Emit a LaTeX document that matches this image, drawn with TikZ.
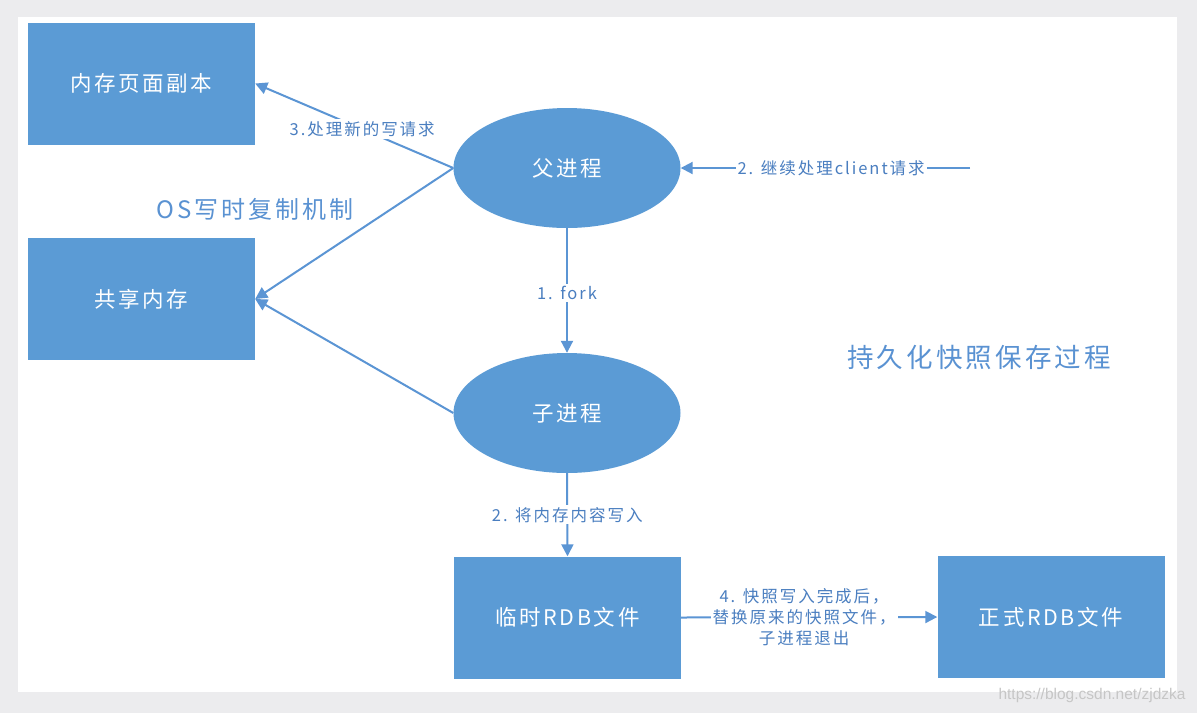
\documentclass[tikz,border=0pt]{standalone}
\usepackage{fontspec}
\setmainfont{Noto Sans CJK SC}
\newfontfamily\spaced[LetterSpace=12]{Noto Sans CJK SC}
\newfontfamily\wmfont{Liberation Sans}
\usetikzlibrary{shapes.geometric,arrows.meta}
\definecolor{boxblue}{HTML}{5B9BD5}
\definecolor{lineblue}{HTML}{5B95D4}
\definecolor{txtblue}{HTML}{4A7EC0}
\definecolor{titleblue}{HTML}{5A92D2}
\definecolor{bggray}{HTML}{ECECEE}
\begin{document}
\begin{tikzpicture}[x=1pt,y=-1pt,
  boxnode/.style={rectangle, fill=boxblue, minimum width=227pt, minimum height=122pt, inner sep=0pt, text=white, font=\spaced\fontsize{21.5}{24}\selectfont},
  procnode/.style={ellipse, fill=boxblue, minimum width=227pt, minimum height=120pt, inner sep=0pt, text=white, font=\spaced\fontsize{21.5}{24}\selectfont},
  conn/.style={draw=lineblue, line width=2pt, -{Triangle[length=12pt,width=12pt]}},
  lbl/.style={fill=white, inner sep=2pt, text=txtblue, font=\spaced\fontsize{16.5}{21}\selectfont, align=center},
  titletext/.style={text=titleblue, inner sep=0pt}
]
\useasboundingbox (0,0) rectangle (1197,713);
\fill[bggray] (0,0) rectangle (1197,713);
\fill[white] (18,17) rectangle (1177,692);

\node[boxnode] (mem) at (141.5,83.5) {内存页面副本};
\node[boxnode] (sh) at (141.5,299) {共享内存};
\node[procnode] (fa) at (567,168) {父进程};
\node[procnode] (ch) at (567,413) {子进程};
\node[boxnode] (tmp) at (567.5,617.5) {临时RDB文件};
\node[boxnode] (rdb) at (1051,617) {正式RDB文件};

\node[titletext, font=\spaced\fontsize{24}{28}\selectfont] (os) at (255,209) {OS写时复制机制};
\node[titletext, font=\spaced\fontsize{26.5}{30}\selectfont] (title) at (979,357) {持久化快照保存过程};
\node[text=gray!45, inner sep=0pt, font=\wmfont\fontsize{15.5}{17}\selectfont] (wm) at (1092,695) {https://blog.csdn.net/zjdzka};

\coordinate (cl) at (970,168);

\draw[conn] (fa.west) -- node[lbl, pos=0.46] {3.处理新的写请求} (mem.east);
\draw[conn] (fa.west) -- (sh.east);
\draw[conn] (ch.west) -- (sh.east);
\draw[conn] (fa.south) -- node[lbl, pos=0.52] {1. fork} (ch.north);
\draw[conn] (cl) -- node[lbl, pos=0.48] {2. 继续处理client请求} (fa.east);
\draw[conn] (ch.south) -- node[lbl, pos=0.5] {2. 将内存内容写入} (tmp.north);
\draw[conn] (tmp.east) -- node[lbl, pos=0.48] {4. 快照写入完成后，\\替换原来的快照文件，\\子进程退出} (rdb.west);
\end{tikzpicture}
\end{document}
